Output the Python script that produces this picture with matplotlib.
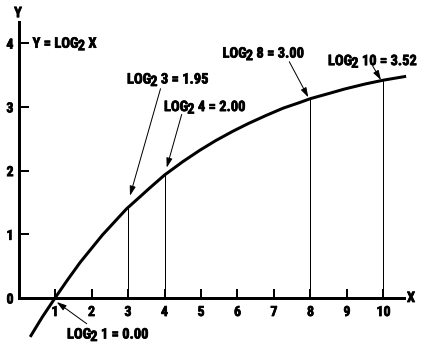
import numpy as np
import matplotlib
matplotlib.use("Agg")
import matplotlib.pyplot as plt
from matplotlib import transforms
import matplotlib.patheffects as pe

# ---- data ----
curve_x = [0.32, 0.65, 1.0, 1.35, 1.69, 2.3, 2.96, 3.33, 3.6, 4.0, 4.5, 4.97, 5.4, 5.88,
           6.3, 6.8, 7.25, 7.71, 8.0, 8.5, 8.93, 9.5, 10.0, 10.62]
curve_y = [-0.61, -0.30, 0.0, 0.29, 0.56, 0.99, 1.40, 1.59, 1.73, 1.93, 2.14, 2.32, 2.47, 2.62,
           2.74, 2.87, 2.98, 3.07, 3.13, 3.21, 3.28, 3.36, 3.42, 3.48]
x_ticks = [1, 2, 3, 4, 5, 6, 7, 8, 9, 10]
x_tick_labels = ["1", "2", "3", "4", "5", "6", "7", "8", "9", "10"]
y_ticks = [0, 1, 2, 3, 4]
y_tick_labels = ["0", "1", "2", "3", "4"]
marked_x = [3, 4, 8, 10]
note_x = [1, 3, 4, 8, 10]
note_arg = ["1", "3", "4", "8", "10"]
note_val = ["0.00", "1.95", "2.00", "3.00", "3.52"]

FONT = ["Liberation Sans Narrow", "Roboto Condensed", "DejaVu Sans"]
plt.rcParams["font.family"] = FONT
plt.rcParams["font.weight"] = "heavy"

HEAVY = [pe.withStroke(linewidth=0.7, foreground="black")]

fig = plt.figure(figsize=(422 / 72, 343 / 72), dpi=72)
ax = fig.add_axes([0, 0, 1, 1])
ax.set_xlim(-0.507, 11.055)
ax.set_ylim(-0.706, 4.678)

for s in ["top", "right"]:
    ax.spines[s].set_visible(False)
ax.spines["left"].set_position(("data", 0))
ax.spines["bottom"].set_position(("data", 0))
ax.spines["left"].set_bounds(0, 4.33)
ax.spines["bottom"].set_bounds(0, 10.56)
ax.spines["left"].set_linewidth(3)
ax.spines["bottom"].set_linewidth(3)

ax.set_xticks(x_ticks, x_tick_labels)
ax.set_yticks(y_ticks, y_tick_labels)
ax.tick_params(axis="x", direction="in", length=9, width=2, pad=7, labelsize=14)
ax.tick_params(axis="y", direction="in", length=10, width=2, pad=5, labelsize=14)
for lab in ax.get_xticklabels() + ax.get_yticklabels():
    lab.set_path_effects(HEAVY)

ax.plot(curve_x, curve_y, color="black", lw=3, solid_capstyle="butt",
        solid_joinstyle="round", clip_on=False)
heights = np.interp(marked_x, curve_x, curve_y)
ax.vlines(marked_x, 0, heights, color="black", lw=1)

FS = 14.5

# label positions / arrow ends (offset points from the marked curve point)
label_off = {1: (12, -40.5), 3: (-1, 124), 4: (-0.5, 64), 8: (-88, 41), 10: (-55.5, 15)}
arrow_tail = {1: (31.7, -25.7), 3: (32.5, 118.8), 4: (17.2, 60.7), 8: (-21.2, 36.9), 10: (-10.8, 14.1)}
arrow_head = {1: (1.7, -4), 3: (2, 11.8), 4: (2.2, 7.4), 8: (-2.2, 1.3), 10: (-2.5, 0.1)}


def sub_label(xy, off, head, tail):
    t1 = ax.annotate(head, xy=xy, xycoords="data", xytext=off,
                     textcoords="offset points", ha="left", va="baseline",
                     fontsize=FS, path_effects=HEAVY)
    t2 = ax.annotate("2", xy=(1, 1), xycoords=t1, xytext=(-0.8, -2.5),
                     textcoords="offset points", ha="left", va="top",
                     fontsize=FS, path_effects=HEAVY)
    ax.annotate(tail, xy=(1, 1), xycoords=t2, xytext=(0, 2.5),
                textcoords="offset points", ha="left", va="top",
                fontsize=FS, path_effects=HEAVY)


for xv, arg, val in zip(note_x, note_arg, note_val):
    yv = float(np.interp(xv, curve_x, curve_y))
    sub_label((xv, yv), label_off[xv], "LOG", f" {arg} = {val}")
    hx, hy = arrow_head[xv]
    tx, ty = arrow_tail[xv]
    head_tf = transforms.offset_copy(ax.transData, fig=fig, x=hx, y=hy, units="points")
    ax.annotate("", xy=(xv, yv), xycoords=head_tf, xytext=(tx - hx, ty - hy),
                textcoords="offset points",
                arrowprops=dict(arrowstyle="-|>,head_length=0.8,head_width=0.25",
                                lw=1, color="black", shrinkA=0, shrinkB=0,
                                mutation_scale=10))

# "Y = LOG2 X" next to the y=4 tick
sub_label((0, 4), (14, -4.5), "Y = LOG", " X")

# axis names
ax.annotate("Y", xy=(0, 4.33), xycoords="data", xytext=(-0.5, 9),
            textcoords="offset points", ha="center", va="center", fontsize=FS,
            path_effects=HEAVY)
ax.annotate("X", xy=(10.56, 0), xycoords="data", xytext=(3, 0),
            textcoords="offset points", ha="left", va="center", fontsize=FS,
            path_effects=HEAVY)

fig.savefig("out.png", dpi=72)
